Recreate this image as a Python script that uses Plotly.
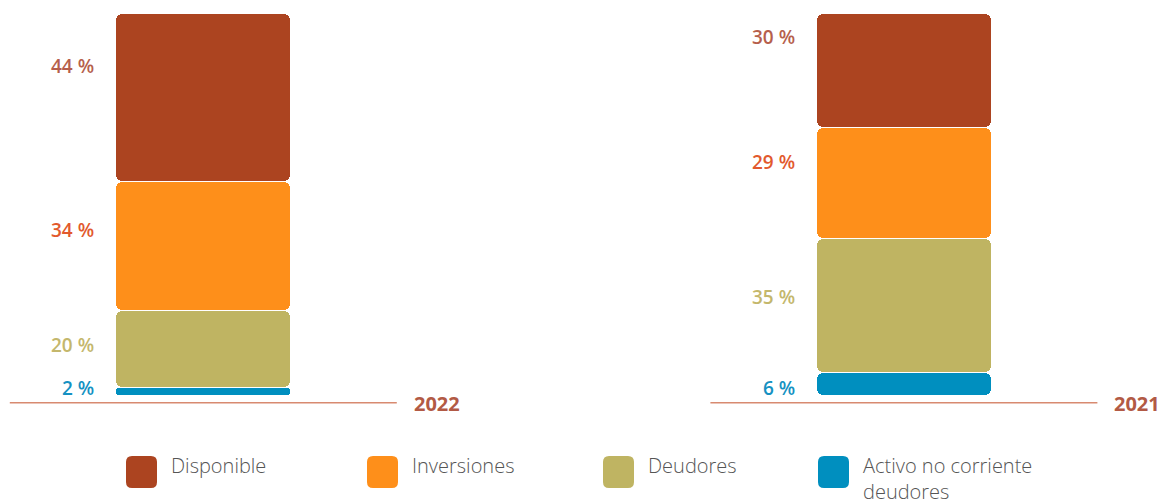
import plotly.graph_objects as go

# ---- data -------------------------------------------------------------
years = ["2022", "2021"]
categories = ["Disponible", "Inversiones", "Deudores", "Activo no corriente deudores"]
disponible = [44, 30]
inversiones = [34, 29]
deudores = [20, 35]
activo = [2, 6]

# label centre heights (in % units) for each year, top segment first
label_y_2022 = [86.1, 43.2, 13.1, 1.9]
label_y_2021 = [93.8, 60.9, 25.7, 1.9]

# ---- styles -----------------------------------------------------------
bar_colors = ["#AC4420", "#FE8F1A", "#BFB462", "#008FBF"]
label_colors = ["#B65F4C", "#E2592D", "#C4B76C", "#1591C2"]
year_color = "#B25A45"
rule_color = "#D88A70"
legend_text_color = "#555555"

W, H = 1161, 499
M_T, M_B = 13, 58
PX_PER_UNIT = 3.82           # vertical pixels per percentage point
X_SPACING_PX = 700.6         # distance between the two bar centres
X0_PX = 203.3                # centre of the first bar
BAR_W = 174 / X_SPACING_PX
CORNER = 6
GAP = 0.13                   # tiny white gap between stacked pieces

plot_h = H - M_T - M_B
y_min = 100 - plot_h / PX_PER_UNIT
x_rng = [-X0_PX / X_SPACING_PX, (W - X0_PX) / X_SPACING_PX]

series = [disponible, inversiones, deudores, activo]   # top to bottom
xs = list(range(len(years)))

fig = go.Figure()

# stacked pieces, each an independent rounded bar sitting on the running total
bottoms = [0.0] * len(years)
for idx in reversed(range(len(series))):
    vals = series[idx]
    lo = [b + GAP for b in bottoms]
    fig.add_trace(go.Bar(
        x=xs, y=[v - 2 * GAP for v in vals], base=lo, width=BAR_W,
        marker=dict(color=bar_colors[idx], cornerradius=CORNER, line=dict(width=0)),
        name=categories[idx], showlegend=False, hoverinfo="skip",
    ))
    bottoms = [b + v for b, v in zip(bottoms, vals)]

# value labels on the left of each bar
label_font = dict(family="Open Sans, sans-serif", size=19, weight=600)
lab_dx = BAR_W / 2 + 20 / X_SPACING_PX
for xi, label_ys in zip(xs, [label_y_2022, label_y_2021]):
    for idx, vals in enumerate(series):
        fig.add_annotation(
            x=xi - lab_dx, y=label_ys[idx], xref="x", yref="y",
            text=f"{vals[xi]} %", showarrow=False, xanchor="right", yanchor="middle",
            font=dict(color=label_colors[idx], **label_font),
        )

# baseline rule and year label under each bar
rule_half = 193.5 / X_SPACING_PX
rule_y = -2.0
for xi, yr in zip(xs, years):
    fig.add_shape(type="line", xref="x", yref="y",
                  x0=xi - rule_half, x1=xi + rule_half, y0=rule_y, y1=rule_y,
                  line=dict(color=rule_color, width=1.5))
    fig.add_annotation(
        x=xi + rule_half + 15 / X_SPACING_PX, y=rule_y - 0.3, xref="x", yref="y",
        text=yr, showarrow=False, xanchor="left", yanchor="middle",
        font=dict(family="Open Sans, sans-serif", size=20, weight=700, color=year_color),
    )

# custom legend below the chart
def paper_x(px):
    return px / W

def paper_y(py):
    return (H - M_B - py) / plot_h

legend_left = [126, 367, 603, 818]
legend_labels = ["Disponible", "Inversiones", "Deudores", "Activo no corriente<br>deudores"]
sw_w, sw_h, r = 31, 32, 6
hw, hh = sw_w / 2, sw_h / 2
swatch_path = (
    f"M {-hw + r},{-hh} L {hw - r},{-hh} Q {hw},{-hh} {hw},{-hh + r} "
    f"L {hw},{hh - r} Q {hw},{hh} {hw - r},{hh} L {-hw + r},{hh} "
    f"Q {-hw},{hh} {-hw},{hh - r} L {-hw},{-hh + r} Q {-hw},{-hh} {-hw + r},{-hh} Z"
)
for left, text, col in zip(legend_left, legend_labels, bar_colors):
    fig.add_shape(
        type="path", xref="paper", yref="paper",
        xsizemode="pixel", ysizemode="pixel",
        xanchor=paper_x(left + hw), yanchor=paper_y(472),
        path=swatch_path, fillcolor=col, line=dict(width=0),
    )
    fig.add_annotation(
        x=paper_x(left + 43), y=paper_y(450), xref="paper", yref="paper",
        text=text, showarrow=False, xanchor="left", yanchor="top", align="left",
        font=dict(family="Open Sans, sans-serif", size=20, weight=300,
                  color=legend_text_color),
    )

fig.update_layout(
    width=W, height=H, autosize=False,
    margin=dict(l=0, r=0, t=M_T, b=M_B, pad=0),
    barmode="overlay", bargap=0,
    paper_bgcolor="white", plot_bgcolor="white",
    showlegend=False,
    xaxis=dict(range=x_rng, visible=False, fixedrange=True),
    yaxis=dict(range=[y_min, 100], visible=False, fixedrange=True),
)

fig.write_html("out.html")
